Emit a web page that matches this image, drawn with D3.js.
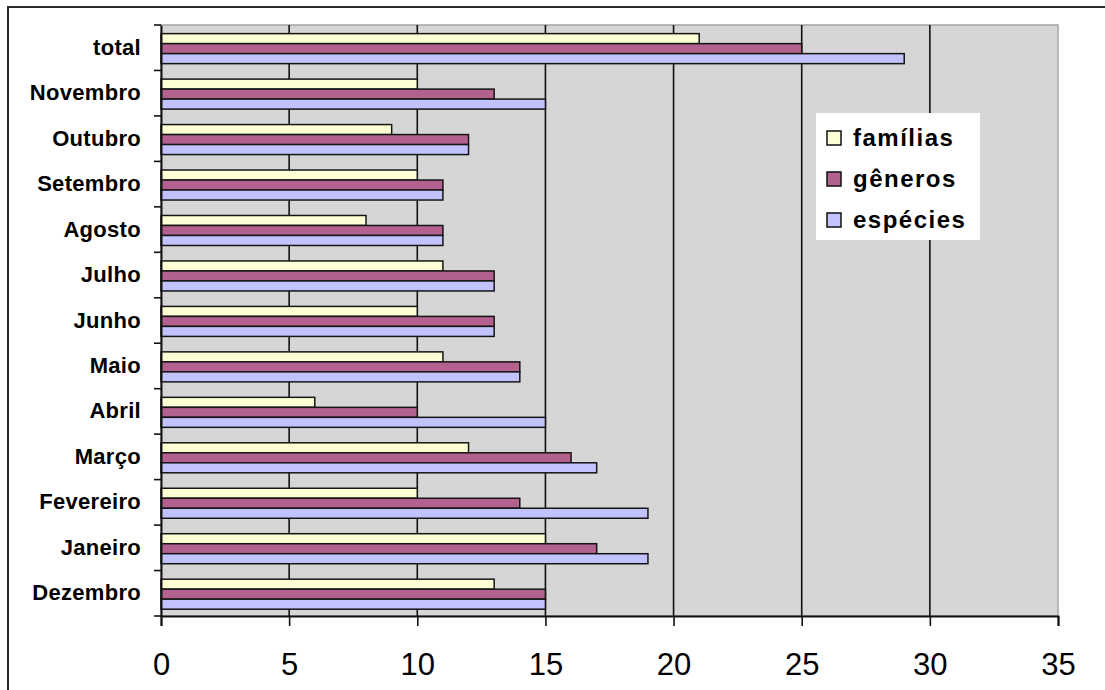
<!DOCTYPE html>
<html>
<head>
<meta charset="utf-8">
<script src="https://cdn.jsdelivr.net/npm/d3@7"></script>
<style>
  html, body { margin: 0; padding: 0; background: #ffffff; }
  svg { display: block; }
</style>
</head>
<body>
<svg id="chart" width="1105" height="690"></svg>
<script>
// Months (plus the overall total), listed top to bottom
const categories = ["total", "Novembro", "Outubro", "Setembro", "Agosto", "Julho",
  "Junho", "Maio", "Abril", "Março", "Fevereiro", "Janeiro", "Dezembro"];

// Counts per category
const familias = [21, 10, 9, 10, 8, 11, 10, 11, 6, 12, 10, 15, 13];
const generos  = [25, 13, 12, 11, 11, 13, 13, 14, 10, 16, 14, 17, 15];
const especies = [29, 15, 12, 11, 11, 13, 13, 14, 15, 17, 19, 19, 15];

const seriesNames = ["famílias", "gêneros", "espécies"];
const xTicks = [0, 5, 10, 15, 20, 25, 30, 35];

const seriesColors = ["#ffffd6", "#b3618e", "#c2c2ff"];
const seriesValues = [familias, generos, especies];

const svg = d3.select("#chart");

// Outer chart frame (runs off the right and bottom edges)
svg.append("rect")
  .attr("x", 8).attr("y", 7)
  .attr("width", 1120).attr("height", 720)
  .attr("fill", "#ffffff")
  .attr("stroke", "#2a2a2a").attr("stroke-width", 2);

const plot = { left: 161, top: 25, right: 1058, bottom: 616 };

const x = d3.scaleLinear().domain([0, 35]).range([plot.left, plot.right]);
const y = d3.scaleBand().domain(categories).range([plot.top, plot.bottom]).paddingInner(0).paddingOuter(0);

// Plot area background
svg.append("rect")
  .attr("x", plot.left).attr("y", plot.top)
  .attr("width", plot.right - plot.left).attr("height", plot.bottom - plot.top)
  .attr("fill", "#d6d6d6")
  .attr("stroke", "#a4a4a4").attr("stroke-width", 1.5);

// Vertical gridlines
svg.append("g")
  .selectAll("line")
  .data(xTicks.filter(t => t > 0 && t < 35))
  .join("line")
  .attr("x1", d => x(d)).attr("x2", d => x(d))
  .attr("y1", plot.top).attr("y2", plot.bottom)
  .attr("stroke", "#111111").attr("stroke-width", 1.6);

// Bars: three per category, stacked vertically inside each band
const barH = y.bandwidth() * 0.22;
const groupOffset = y.bandwidth() * 0.19;

const rows = [];
categories.forEach((c, i) => {
  seriesValues.forEach((vals, s) => {
    rows.push({ cat: c, s: s, v: vals[i] });
  });
});

svg.append("g")
  .selectAll("rect")
  .data(rows)
  .join("rect")
  .attr("x", x(0))
  .attr("y", d => y(d.cat) + groupOffset + d.s * barH)
  .attr("width", d => x(d.v) - x(0))
  .attr("height", barH)
  .attr("fill", d => seriesColors[d.s])
  .attr("stroke", "#151515").attr("stroke-width", 1.5);

// Category axis
const yAxis = d3.axisLeft(y).tickSize(0).tickPadding(20);
const yG = svg.append("g").attr("transform", `translate(${plot.left},0)`).call(yAxis);
yG.select(".domain").attr("stroke", "#111111").attr("stroke-width", 2);
yG.selectAll("text")
  .attr("font-family", "'Liberation Sans', Arial, sans-serif")
  .attr("font-weight", "bold")
  .attr("font-size", 22)
  .attr("letter-spacing", 0.3)
  .attr("fill", "#000000");

// Tick marks on band boundaries
const boundaries = categories.map(c => y(c)).concat([plot.bottom]);
svg.append("g")
  .selectAll("line")
  .data(boundaries)
  .join("line")
  .attr("x1", plot.left - 7).attr("x2", plot.left)
  .attr("y1", d => d).attr("y2", d => d)
  .attr("stroke", "#111111").attr("stroke-width", 1.6);

// Value axis
const xAxis = d3.axisBottom(x).tickValues(xTicks).tickSize(10).tickPadding(27)
  .tickFormat(d3.format("d"));
const xG = svg.append("g").attr("transform", `translate(0,${plot.bottom})`).call(xAxis);
xG.select(".domain").attr("stroke", "#111111").attr("stroke-width", 2);
xG.selectAll(".tick line").attr("stroke", "#111111").attr("stroke-width", 1.6);
xG.selectAll("text")
  .attr("font-family", "'Liberation Sans', Arial, sans-serif")
  .attr("font-size", 31)
  .attr("fill", "#000000");

// Legend
const legend = svg.append("g").attr("transform", "translate(816,113)");
legend.append("rect")
  .attr("width", 164).attr("height", 127)
  .attr("fill", "#ffffff");
const items = legend.selectAll("g.item")
  .data(seriesNames)
  .join("g")
  .attr("class", "item")
  .attr("transform", (d, i) => `translate(0,${25 + i * 41})`);
items.append("rect")
  .attr("x", 11).attr("y", -7)
  .attr("width", 14).attr("height", 14)
  .attr("fill", (d, i) => seriesColors[i])
  .attr("stroke", "#111111").attr("stroke-width", 1.5);
items.append("text")
  .attr("x", 37).attr("y", 0)
  .attr("dy", "0.35em")
  .attr("font-family", "'Liberation Sans', Arial, sans-serif")
  .attr("font-weight", "bold")
  .attr("font-size", 24)
  .attr("letter-spacing", 1.5)
  .attr("fill", "#000000")
  .text(d => d);
</script>
</body>
</html>
